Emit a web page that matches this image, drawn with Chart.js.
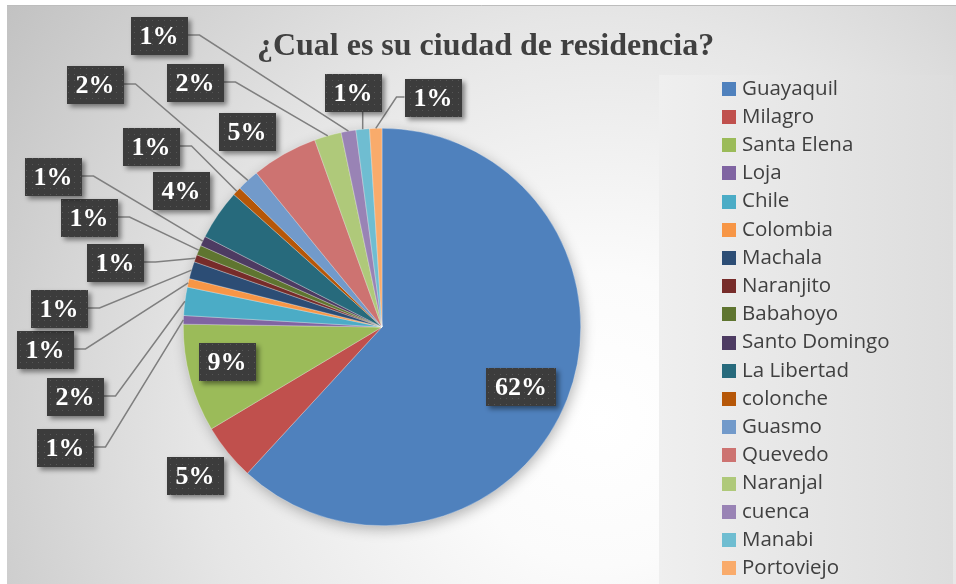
<!DOCTYPE html>
<html>
<head>
<meta charset="utf-8">
<script src="https://cdn.jsdelivr.net/npm/chart.js@4.4.1/dist/chart.umd.min.js"></script>
<style>
  html, body { margin: 0; padding: 0; background: #fff; }
  #pie { display: block; }
</style>
</head>
<body>
<canvas id="pie" width="956" height="584"></canvas>
<script>
const chartTitle = "¿Cual es su ciudad de residencia?";

const cities = ["Guayaquil", "Milagro", "Santa Elena", "Loja", "Chile", "Colombia",
  "Machala", "Naranjito", "Babahoyo", "Santo Domingo", "La Libertad", "colonche",
  "Guasmo", "Quevedo", "Naranjal", "cuenca", "Manabi", "Portoviejo"];

// share of answers (%)
const shares = [61.9, 4.6, 8.8, 0.7, 2.3, 0.7, 1.4, 0.6, 0.8, 0.8, 4.1, 0.7, 1.8, 5.4, 2.2, 1.2, 1.1, 1.0];

const sliceColors = ["#4F81BD", "#C0504D", "#9BBB59", "#8064A2", "#4BACC6", "#F79646",
  "#2C4D75", "#772C2A", "#5F7530", "#4D3B62", "#276A7C", "#B65708",
  "#729ACA", "#CD7371", "#AFC97A", "#9983B5", "#6FBDD1", "#F9AB6B"];

// where each % box sits (centre) and which side its leader line leaves from
const labelSpots = [
  [521, 387, "none"], [195, 476, "none"], [227, 362, "none"], [65, 448, "right"],
  [75, 397, "right"], [45, 350, "right"], [59, 309, "right"], [115, 263, "right"],
  [89, 218, "right"], [53, 177, "right"], [181, 191, "none"], [151, 147, "right"],
  [95, 85, "right"], [247, 132, "none"], [195, 83, "right"], [159, 36, "right"],
  [353, 93, "bottom"], [433, 98, "left"]
];

function dotPattern(ctx) {
  const c = document.createElement("canvas");
  c.width = 6; c.height = 6;
  const p = c.getContext("2d");
  p.fillStyle = "#3c3c3c"; p.fillRect(0, 0, 6, 6);
  p.fillStyle = "#575757"; p.fillRect(2, 2, 1, 1);
  return ctx.createPattern(c, "repeat");
}

const decor = {
  id: "decor",
  beforeDraw(chart) {
    const ctx = chart.ctx;
    ctx.save();
    ctx.fillStyle = "#fff";
    ctx.fillRect(0, 0, 956, 584);
    const g = ctx.createRadialGradient(600, 420, 0, 600, 420, 730);
    g.addColorStop(0, "#ffffff");
    g.addColorStop(0.2, "#fbfbfb");
    g.addColorStop(0.55, "#e6e6e6");
    g.addColorStop(1, "#c1c1c1");
    ctx.fillStyle = g;
    ctx.fillRect(7, 5, 949, 579);
    ctx.strokeStyle = "#bdbdbd";
    ctx.lineWidth = 1;
    ctx.beginPath(); ctx.moveTo(7, 5.5); ctx.lineTo(956, 5.5); ctx.stroke();
    // legend panel
    const lg = ctx.createLinearGradient(659, 0, 953, 0);
    lg.addColorStop(0, "#efefef");
    lg.addColorStop(1, "#dddddd");
    ctx.fillStyle = lg;
    ctx.fillRect(659, 75, 294, 509);
    ctx.restore();
  },
  beforeDatasetsDraw(chart) {
    const arc = chart.getDatasetMeta(0).data[0];
    const ctx = chart.ctx;
    ctx.save();
    ctx.shadowColor = "rgba(0,0,0,0.3)";
    ctx.shadowBlur = 14;
    ctx.shadowOffsetX = 2;
    ctx.shadowOffsetY = 4;
    ctx.fillStyle = "#888";
    ctx.beginPath();
    ctx.arc(arc.x, arc.y, arc.outerRadius - 1, 0, Math.PI * 2);
    ctx.fill();
    ctx.restore();
  },
  afterDatasetsDraw(chart) {
    const ctx = chart.ctx;
    const arcs = chart.getDatasetMeta(0).data;
    const total = shares.reduce((s, v) => s + v, 0);
    const pattern = dotPattern(ctx);
    ctx.save();
    ctx.font = "bold 26px 'Liberation Serif', 'Times New Roman', serif";

    // leader lines first
    ctx.strokeStyle = "#7f7f7f";
    ctx.lineWidth = 1.5;
    arcs.forEach((a, i) => {
      const [cx, cy, side] = labelSpots[i];
      if (side === "none") return;
      const mid = (a.startAngle + a.endAngle) / 2;
      const ex = a.x + Math.cos(mid) * a.outerRadius;
      const ey = a.y + Math.sin(mid) * a.outerRadius;
      const txt = Math.round(shares[i] / total * 100) + "%";
      const w = ctx.measureText(txt).width + 18;
      ctx.beginPath();
      if (side === "right") {
        ctx.moveTo(cx + w / 2, cy - 1);
        ctx.lineTo(cx + w / 2 + 12, cy - 1);
      } else if (side === "left") {
        ctx.moveTo(cx - w / 2, cy - 1);
        ctx.lineTo(cx - w / 2 - 8, cy - 1);
      } else {
        ctx.moveTo(ex, cy + 19);
      }
      ctx.lineTo(ex, ey);
      ctx.stroke();
    });

    // % boxes
    arcs.forEach((a, i) => {
      const [cx, cy] = labelSpots[i];
      const txt = Math.round(shares[i] / total * 100) + "%";
      const w = ctx.measureText(txt).width + 18;
      const h = 38;
      ctx.save();
      ctx.shadowColor = "rgba(0,0,0,0.45)";
      ctx.shadowBlur = 5;
      ctx.shadowOffsetX = 3;
      ctx.shadowOffsetY = 3;
      ctx.fillStyle = pattern;
      ctx.fillRect(Math.round(cx - w / 2), Math.round(cy - h / 2), Math.round(w), h);
      ctx.restore();
      ctx.fillStyle = "#ffffff";
      ctx.textAlign = "center";
      ctx.textBaseline = "middle";
      ctx.fillText(txt, cx, cy + 1);
    });
    ctx.restore();
  },
  afterDraw(chart) {
    const ctx = chart.ctx;
    ctx.save();
    ctx.fillStyle = "#404040";
    ctx.font = "bold 32px 'Liberation Serif', 'Times New Roman', serif";
    ctx.textAlign = "center";
    ctx.textBaseline = "alphabetic";
    ctx.fillText(chartTitle, 485.5, 55);

    // legend
    ctx.font = "20.5px 'Open Sans', sans-serif";
    ctx.textAlign = "left";
    ctx.textBaseline = "middle";
    cities.forEach((name, i) => {
      const y = 88.7 + i * 28.2;
      ctx.fillStyle = sliceColors[i];
      ctx.fillRect(722, Math.round(y - 7), 14, 14);
      ctx.fillStyle = "#404040";
      ctx.fillText(name, 742, y);
    });
    ctx.restore();
  }
};

new Chart(document.getElementById("pie"), {
  type: "pie",
  data: {
    labels: cities,
    datasets: [{
      data: shares,
      backgroundColor: sliceColors,
      borderWidth: 0.5,
      borderColor: "rgba(255,255,255,0.6)",
      hoverOffset: 0
    }]
  },
  options: {
    responsive: false,
    animation: false,
    layout: { padding: { left: 183, right: 375, top: 128, bottom: 58 } },
    plugins: { legend: { display: false }, tooltip: { enabled: false } }
  },
  plugins: [decor]
});
</script>
</body>
</html>
